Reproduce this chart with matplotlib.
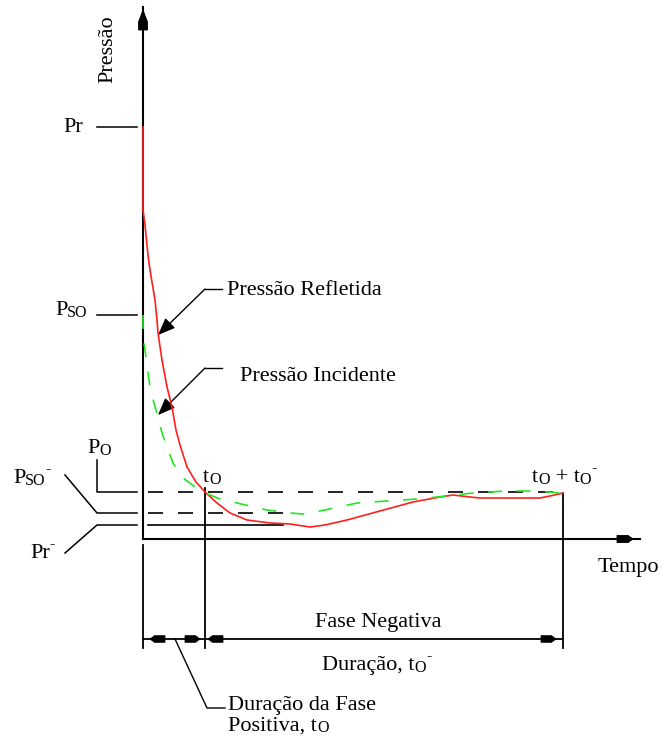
import numpy as np
import matplotlib
matplotlib.use("Agg")
import matplotlib.pyplot as plt

plt.rcParams['font.family'] = ['Liberation Serif', 'DejaVu Serif']
plt.rcParams['lines.scale_dashes'] = False

# pressure levels and times (schematic units)
PR = 41.2
PSO = 22.4
PO = 4.7
PSO_NEG = 2.6
PR_NEG = 1.4
T0 = 6.2
T_END = 42.0
T_AXIS_END = 49.7
P_AXIS_END = 53.2
Y_DIM = -10.0

# reflected pressure curve (time, pressure)
reflected_t = [0.0, 0.0, 0.2, 0.5, 0.7, 1.2, 1.4, 1.5, 1.9, 2.4, 2.9, 3.3, 3.7, 4.4,
               5.3, 6.2, 7.4, 8.7, 10.4, 12.7, 14.7, 16.7, 18.2, 20.4, 23.7, 27.0,
               29.7, 31.0, 32.7, 33.7, 39.7, 40.7, 42.0]
reflected_p = [41.2, 32.9, 31.4, 28.4, 26.9, 23.9, 21.9, 20.6, 17.9, 15.2, 13.2, 10.9,
               9.4, 7.2, 5.7, 4.7, 3.6, 2.6, 1.9, 1.6, 1.5, 1.2, 1.4, 1.9, 2.8, 3.7,
               4.2, 4.4, 4.2, 4.1, 4.1, 4.3, 4.6]

# incident pressure curve (time, pressure)
incident_t = [0.0, 0.0, 0.1, 0.3, 0.5, 0.7, 1.1, 1.5, 1.9, 2.4, 3.0, 4.0, 5.2, 6.2,
              7.7, 9.4, 12.4, 14.7, 16.0, 18.2, 21.4, 24.4, 27.4, 30.4, 33.0, 36.3,
              39.4, 41.7]
incident_p = [22.4, 20.9, 19.6, 18.2, 16.6, 15.2, 13.6, 12.2, 10.6, 9.2, 7.6, 6.1, 5.2,
              4.6, 4.0, 3.6, 2.9, 2.6, 2.5, 2.9, 3.6, 3.8, 4.0, 4.3, 4.6, 4.8, 4.8, 4.6]

RED = '#ff1f1f'
GREEN = '#22e622'
FS = 16
FS_SMALL = 11.5

fig = plt.figure(figsize=(6.62, 7.38), dpi=100)
ax = fig.add_axes([0, 0, 1, 1])
ax.set_xlim(-14.3, 51.9)
ax.set_ylim(-19.9, 53.9)
ax.axis('off')


def block_head(tip, direction, length=1.5, half=0.33, taper=0.45):
    """Filled arrow head drawn as a tapered block."""
    tip = np.asarray(tip, dtype=float)
    d = np.asarray(direction, dtype=float)
    d = d / np.hypot(*d)
    n = np.array([-d[1], d[0]])
    pts = [tip,
           tip - taper * d + half * n,
           tip - length * d + half * n,
           tip - length * d - half * n,
           tip - taper * d - half * n]
    xs, ys = zip(*pts)
    ax.fill(xs, ys, color='black', lw=0.6, zorder=5)


def label(x, y, parts, size=FS, sub_drop=-0.5):
    """Text with small subscript / superscript pieces, laid out left to right."""
    main = ax.text(x, y, parts[0], fontsize=size, ha='left', va='baseline')
    prev = main
    for piece in parts[1:]:
        text, kind = piece
        if kind == 'sub':
            fs, dy = FS_SMALL, sub_drop
        elif kind == 'sup':
            fs, dy = FS_SMALL, 7.5
        else:
            fs, dy = size, 0
        prev = ax.annotate(text, xy=(1, 0), xycoords=(prev, main),
                           xytext=(0, dy), textcoords='offset points',
                           fontsize=fs, ha='left', va='bottom')
    return main


# axes
ax.plot([0, 0], [0, P_AXIS_END], color='black', lw=1.5, zorder=3)
ax.plot([0, T_AXIS_END], [0, 0], color='black', lw=1.5, zorder=3)
block_head((0, P_AXIS_END - 0.3), (0, 1), length=2.0, half=0.45, taper=1.2)
block_head((T_AXIS_END - 0.7, 0), (1, 0), length=1.6, half=0.36, taper=0.5)

# reference levels
for level in (PR, PSO):
    ax.plot([-4.6, -0.6], [level, level], color='black', lw=1.1)

ax.plot([-4.6, -4.6, -0.6], [7.9, PO, PO], color='black', lw=1.1)
ax.plot([-7.8, -4.6, -0.6], [6.4, PSO_NEG, PSO_NEG], color='black', lw=1.1)
ax.plot([-7.8, -4.6, -0.6], [-1.4, PR_NEG, PR_NEG], color='black', lw=1.1)

ax.plot([0.5, 41.7], [PO, PO], color='black', lw=1.2, ls=(0, (10.8, 10.8)))
ax.plot([0.5, 14.0], [PSO_NEG, PSO_NEG], color='black', lw=1.2, ls=(0, (10.8, 10.8)))
ax.plot([0.5, 14.0], [PR_NEG, PR_NEG], color='black', lw=1.2)

# pressure curves
ax.plot(reflected_t, reflected_p, color=RED, lw=1.2, zorder=4)
ax.plot(incident_t, incident_p, color=GREEN, lw=1.2, ls=(0, (10, 10.5)), zorder=4)

# duration markers
ax.plot([0, 0], [-0.6, -10.9], color='black', lw=1.3)
ax.plot([T0, T0], [5.1, -10.9], color='black', lw=1.3)
ax.plot([T_END, T_END], [PO - 0.1, -10.9], color='black', lw=1.3)
ax.plot([0, T_END], [Y_DIM, Y_DIM], color='black', lw=1.3)
block_head((0.7, Y_DIM), (-1, 0))
block_head((T0 - 0.5, Y_DIM), (1, 0))
block_head((T0 + 0.3, Y_DIM), (-1, 0))
block_head((T_END - 0.7, Y_DIM), (1, 0))

# curve callouts
arrow_kw = dict(arrowstyle='-|>,head_length=0.75,head_width=0.3', color='black',
                lw=1.0, shrinkA=0, shrinkB=0, mutation_scale=14)
ax.plot([7.9, 6.2], [25.0, 25.0], color='black', lw=1.0)
ax.annotate('', xy=(1.5, 20.4), xytext=(6.2, 25.0), arrowprops=arrow_kw)
ax.text(8.4, 24.4, 'Pressão Refletida', fontsize=FS, ha='left', va='baseline')

ax.plot([7.9, 6.2], [17.1, 17.1], color='black', lw=1.0)
ax.annotate('', xy=(1.5, 12.4), xytext=(6.2, 17.1), arrowprops=arrow_kw)
ax.text(9.7, 15.8, 'Pressão Incidente', fontsize=FS, ha='left', va='baseline')

# positive phase callout
ax.plot([3.2, 6.4, 8.2], [Y_DIM, -16.9, -16.9], color='black', lw=1.0)

# labels
ax.text(-3.5, 49.0, 'Pressão', fontsize=FS, rotation=90, ha='center', va='center')
ax.text(45.5, -3.3, 'Tempo', fontsize=FS, ha='left', va='baseline')
label(-8.0, 40.7, ['Pr'])
label(-8.8, 22.4, ['P', ('SO', 'sub')])
label(-5.6, 8.6, ['P', ('O', 'sub')])
label(-13.0, 5.6, ['P', ('SO', 'sub'), ('-', 'sup')])
label(-11.3, -1.9, ['Pr', ('-', 'sup')])
label(6.0, 5.7, ['t', ('O', 'sub')])
label(38.9, 5.7, ['t', ('O', 'sub'), (' + t', 'n'), ('O', 'sub'), ('-', 'sup')])

ax.text(23.5, -8.8, 'Fase Negativa', fontsize=FS, ha='center', va='baseline')
label(17.9, -13.1, ['Duração, t', ('O', 'sub'), ('-', 'sup')])
ax.text(8.5, -17.1, 'Duração da Fase', fontsize=FS, ha='left', va='baseline')
label(8.5, -19.2, ['Positiva, t', ('O', 'sub')], sub_drop=0)

fig.savefig('out.png', dpi=100)
